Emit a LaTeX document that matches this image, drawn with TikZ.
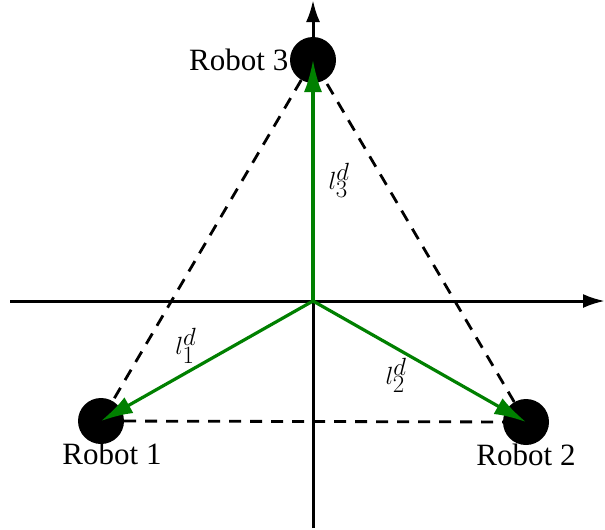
\documentclass[tikz,border=0pt]{standalone}
\usepackage{fontspec}
\setmainfont{Liberation Serif}
\usetikzlibrary{arrows.meta}

\tikzset{
  robot/.style={circle,fill=black,minimum size=46pt,inner sep=0pt},
  axis/.style={line width=3pt,-{Latex[length=22pt,width=14pt]}},
  link/.style={line width=2.8pt,dash pattern=on 12pt off 9pt},
  dvec/.style={line width=3.2pt,draw=green!50!black,-{Latex[length=32pt,width=18pt]}},
  lbl/.style={font=\fontsize{31}{36}\selectfont},
  vlbl/.style={font=\fontsize{36}{40}\selectfont,inner sep=2pt}
}

\begin{document}
\begin{tikzpicture}[x=1pt,y=-1pt]
  \useasboundingbox (0,0) rectangle (605,530);
  % axes
  \coordinate (o) at (313,301);
  \coordinate (xl) at (10,301);
  \coordinate (xr) at (605,301);
  \coordinate (yb) at (313,528);
  \coordinate (yt) at (313,0);
  \draw[axis] (xl) -- (xr);
  \draw[axis] (yb) -- (yt);
  % robots
  \node[robot] (r1) at (101,421) {};
  \node[robot] (r2) at (526,422) {};
  \node[robot] (r3) at (313,60) {};
  \node[lbl,anchor=east] at ([xshift=2pt]r3.west) {Robot 3};
  \node[lbl,anchor=north] at ([xshift=11pt,yshift=5pt]r1.south) {Robot 1};
  \node[lbl,anchor=north] at ([yshift=5pt]r2.south) {Robot 2};
  % formation
  \draw[link] (r1) -- (r2);
  \draw[link] (r2) -- (r3);
  \draw[link] (r3) -- (r1);
  % desired vectors
  \draw[dvec] (o) -- (r1.center) node[vlbl,pos=0.6,above=6pt] {$l_1^d$};
  \draw[dvec] (o) -- (r2.center) node[vlbl,pos=0.39,below=6pt] {$l_2^d$};
  \draw[dvec] (o) -- (r3.center) node[vlbl,pos=0.5,right=12pt] {$l_3^d$};
\end{tikzpicture}
\end{document}
